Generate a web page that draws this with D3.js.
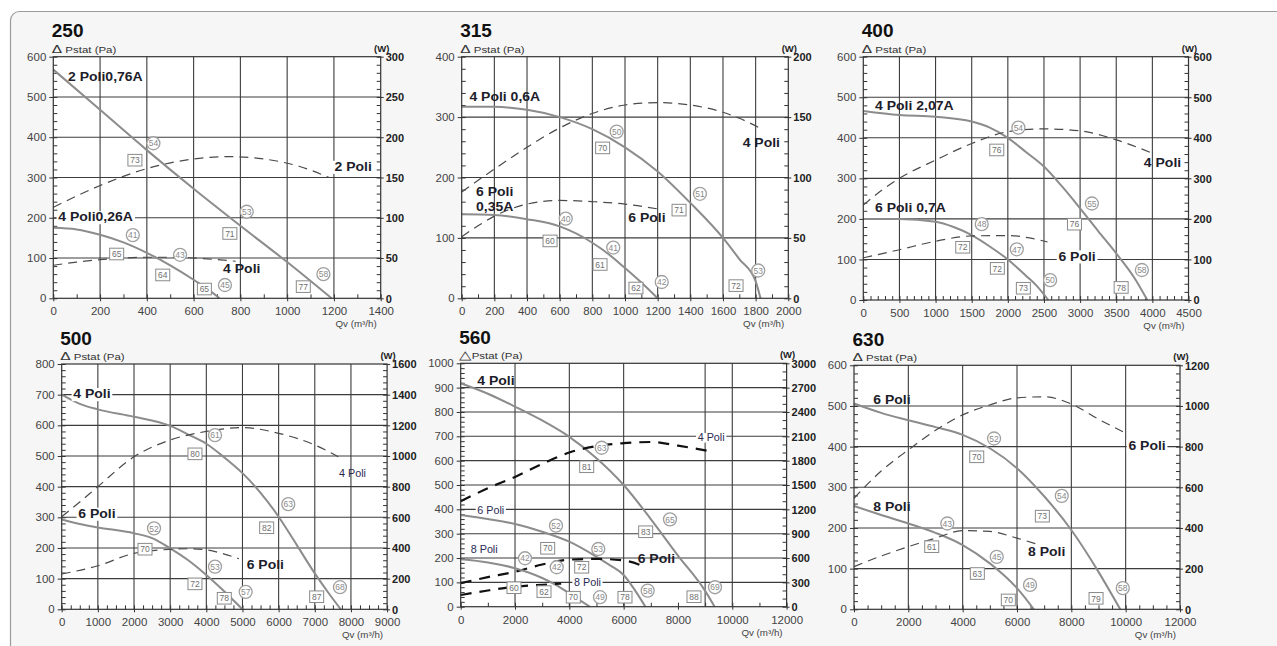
<!DOCTYPE html>
<html><head><meta charset="utf-8">
<script src="https://cdn.jsdelivr.net/npm/d3@7"></script>
<style>
body{margin:0;background:#fff;}
svg{display:block;}
</style></head><body>
<script>
// ---------------- DATA ----------------
const titles = ["250","315","400","500","560","630"];
const qvMax  = [1400,2000,4500,9000,12000,12000];
const paMax  = [600,400,600,800,1000,600];
const wMax   = [300,200,600,1600,3000,1200];
const qvStep = [200,200,500,1000,2000,2000];
const qvMinorStep = [100,100,100,250,1000,500];
const paStep = [100,100,100,100,100,100];
const paMinorStep = [20,20,20,20,20,20];
const wStep  = [50,50,100,200,300,200];
const wMinorStep = [10,10,20,40,100,40];
const qvGrid = [
  [200,400,600,800,1000,1200],
  [200,400,600,800,1000,1200,1400,1600,1800],
  [500,1000,1500,2000,2500,3000,3500,4000],
  [1000,2000,3000,4000,5000,6000,7000,8000],
  [2000,4000,6000,9000,10000],
  [2000,4000,6000,8000,10000]
];

// pressure curves [Qv, Pa]; power curves [Qv, W]
const p250_2P     = [[0,568],[200,468],[400,368],[600,272],[800,180],[1000,90],[1190,0]];
const p250_2P_pow = [[0,113],[200,140],[400,161],[600,173],[750,176],[900,173],[1050,164],[1180,150]];
const p250_4P     = [[0,175],[100,171],[200,158],[300,139],[400,113],[500,82],[600,46],[700,5],[710,0]];
const p250_4P_pow = [[0,41],[100,45],[200,48],[300,50],[400,51],[500,51],[600,50],[700,48],[780,46]];

const p315_4P     = [[0,317],[200,317],[400,312],[600,300],[800,280],[1000,250],[1200,210],[1400,158],[1600,100],[1700,65],[1800,28],[1830,0]];
const p315_4P_pow = [[0,88],[200,107],[400,125],[600,141],[800,153],[1000,160],[1200,162],[1400,160],[1600,154],[1700,149],[1840,140]];
const p315_6P     = [[0,139],[200,138],[400,131],[600,119],[800,92],[900,73],[1000,50],[1100,26],[1200,0]];
const p315_6P_pow = [[0,51],[100,60],[200,68],[300,74],[400,78],[600,81],[800,80],[1000,78],[1200,74]];

const p400_4P     = [[0,466],[500,456],[1000,452],[1500,440],[1750,425],[2000,400],[2250,365],[2500,329],[2750,280],[3000,226],[3250,170],[3500,115],[3750,55],[3930,0]];
const p400_4P_pow = [[0,234],[250,270],[500,300],[1000,345],[1500,386],[2000,415],[2500,422],[3000,417],[3500,395],[4000,362]];
const p400_6P     = [[0,200],[500,200],[1000,193],[1250,180],[1500,160],[1750,132],[2000,100],[2250,60],[2400,35],[2560,0]];
const p400_6P_pow = [[0,104],[500,124],[1000,145],[1500,158],[2000,159],[2300,153],[2550,143]];

const p500_4P     = [[0,700],[500,670],[1000,652],[2000,628],[3000,598],[3500,570],[4000,540],[4500,495],[5000,444],[5500,380],[6000,302],[6500,210],[7000,117],[7400,50],[7720,0]];
const p500_4P_pow = [[0,604],[500,700],[1000,800],[2000,995],[3000,1104],[4000,1160],[5000,1185],[6000,1148],[7000,1072],[7650,995]];
const p500_6P     = [[0,293],[500,278],[1000,267],[2000,248],[2500,232],[3000,199],[3500,160],[4000,112],[4500,58],[5000,0]];
const p500_6P_pow = [[0,230],[1000,284],[2000,365],[3000,391],[3500,395],[4000,388],[4500,360],[4900,330]];

const p560_4P     = [[0,918],[1000,875],[2000,822],[3000,765],[4000,698],[5000,610],[6000,500],[7000,360],[8000,210],[9000,65],[9350,0]];
const p560_4P_pow = [[0,1300],[1000,1460],[2000,1600],[3000,1760],[4000,1900],[5000,1980],[6000,2015],[7000,2030],[8000,1985],[9200,1915]];
const p560_6P     = [[0,377],[1000,360],[2000,340],[3000,308],[4000,267],[5000,205],[5500,170],[6000,130],[6400,70],[6800,0]];
const p560_6P_pow = [[0,290],[1000,365],[2000,431],[3000,520],[4000,580],[5000,590],[6000,570],[6800,490]];
const p560_8P     = [[0,195],[1000,182],[2000,158],[3000,118],[3500,90],[4000,55],[4750,0]];
const p560_8P_pow = [[0,144],[1000,200],[2000,246],[3000,270],[3700,285]];

const p630_6P     = [[0,506],[1000,483],[2000,465],[3000,448],[4000,429],[5000,396],[6000,347],[7000,278],[8000,195],[9000,92],[9800,0]];
const p630_6P_pow = [[0,546],[1000,680],[2000,784],[3000,880],[4000,956],[5000,1005],[6000,1040],[7000,1045],[8000,1010],[9000,935],[9900,873]];
const p630_8P     = [[0,254],[1000,232],[2000,211],[3000,188],[4000,158],[5000,113],[5500,85],[6000,52],[6620,0]];
const p630_8P_pow = [[0,210],[1000,262],[2000,308],[3000,350],[4000,387],[5000,383],[6000,350],[6700,322]];

// markers [Qv, Pa, label, type]  c = circle (dB), s = square (efficiency)
const m250 = [[428,385,"54","c"],[349,343,"73","s"],[827,215,"53","c"],[755,161,"71","s"],[1155,60,"58","c"],[1069,29,"77","s"],[340,157,"41","c"],[271,110,"65","s"],[542,108,"43","c"],[468,58,"64","s"],[646,23,"65","s"],[734,33,"45","c"]];
const m315 = [[949,276,"50","c"],[863,249,"70","s"],[1459,173,"51","c"],[1331,146,"71","s"],[1816,46,"53","c"],[1680,21,"72","s"],[637,132,"40","c"],[541,95,"60","s"],[928,84,"41","c"],[847,56,"61","s"],[1067,17,"62","s"],[1225,27,"42","c"]];
const m400 = [[2146,425,"54","c"],[1847,370,"76","s"],[3163,238,"55","c"],[2922,187,"76","s"],[3855,74,"58","c"],[3568,31,"78","s"],[1639,187,"48","c"],[1376,130,"72","s"],[2124,125,"47","c"],[1855,78,"72","s"],[2215,29,"73","s"],[2585,49,"50","c"]];
const m500 = [[4240,568,"61","c"],[3686,507,"80","s"],[6267,343,"63","c"],[5669,266,"82","s"],[7696,72,"68","c"],[7052,41,"87","s"],[2553,264,"52","c"],[2304,196,"70","s"],[4240,139,"53","c"],[3686,83,"72","s"],[4497,36,"78","s"],[5088,57,"57","c"]];
const m560 = [[5191,653,"63","c"],[4639,575,"81","s"],[7706,359,"65","c"],[6811,308,"83","s"],[9363,80,"69","c"],[8590,41,"88","s"],[3509,333,"52","c"],[3203,240,"70","s"],[5066,237,"53","c"],[4455,162,"72","s"],[6049,39,"78","s"],[6885,66,"58","c"],[2367,199,"42","c"],[1962,78,"60","s"],[3535,162,"42","c"],[3067,62,"62","s"],[4146,39,"70","s"],[5129,39,"49","c"]];
const m630 = [[5155,420,"52","c"],[4518,375,"70","s"],[7647,279,"54","c"],[6933,229,"73","s"],[9893,52,"58","c"],[8910,27,"79","s"],[3435,211,"43","c"],[2861,154,"61","s"],[5254,129,"45","c"],[4540,88,"63","s"],[6480,60,"49","c"],[5681,23,"70","s"]];

// curve labels [text, Qv, Pa(baseline), anchor, style]
const n250 = [["2 Poli0,76A",63,540,"start","B"],["4 Poli0,26A",21,191,"start","Bb"],["2 Poli",1362,316,"end","Bb"],["4 Poli",726,64,"start","B"]];
const n315 = [["4 Poli 0,6A",47,327,"start","B"],["6 Poli",88,169,"start","B"],["0,35A",88,145,"start","B"],["4 Poli",1949,250,"end","B"],["6 Poli",1020,127,"start","B"]];
const n400 = [["4 Poli 2,07A",162,469,"start","B"],["6 Poli 0,7A",162,216,"start","B"],["4 Poli",4399,329,"end","B"],["6 Poli",2700,97,"start","Bb"]];
const n500 = [["4 Poli",321,688,"start","Bb"],["6 Poli",459,298,"start","Bb"],["4 Poli",7669,433,"start","n"],["6 Poli",5116,131,"start","B"]];
const n560 = [["4 Poli",611,911,"start","B"],["6 Poli",611,381,"start","nb"],["8 Poli",368,219,"start","n"],["8 Poli",4171,86,"start","nb"],["4 Poli",8726,682,"start","nb"],["6 Poli",6517,178,"start","B"]];
const n630 = [["6 Poli",711,506,"start","B"],["8 Poli",711,242,"start","B"],["6 Poli",10100,392,"start","Bb"],["8 Poli",6407,132,"start","B"]];

const panelCurves = [
  [[p250_2P,"p"],[p250_2P_pow,"w"],[p250_4P,"p"],[p250_4P_pow,"w"]],
  [[p315_4P,"p"],[p315_4P_pow,"w"],[p315_6P,"p"],[p315_6P_pow,"w"]],
  [[p400_4P,"p"],[p400_4P_pow,"w"],[p400_6P,"p"],[p400_6P_pow,"w"]],
  [[p500_4P,"p"],[p500_4P_pow,"w"],[p500_6P,"p"],[p500_6P_pow,"w"]],
  [[p560_4P,"p"],[p560_4P_pow,"W"],[p560_6P,"p"],[p560_6P_pow,"W"],[p560_8P,"p"],[p560_8P_pow,"W"]],
  [[p630_6P,"p"],[p630_6P_pow,"w"],[p630_8P,"p"],[p630_8P_pow,"w"]]
];
const panelMarkers = [m250,m315,m400,m500,m560,m630];
const panelNotes = [n250,n315,n400,n500,n560,n630];
const yLabels = ["\u0394 Pstat (Pa)","\u0394 Pstat (Pa)","\u0394 Pstat (Pa)","\u0394 Pstat (Pa)","\u25B3Pstat (Pa)","\u0394 Pstat (Pa)"];

// ---------------- LAYOUT ----------------
const boxes = [
  [53.3,56.7,380.7,298.3],
  [461.7,56.7,788.3,298.3],
  [863.3,56.7,1188.5,300],
  [61.7,364,387.1,609.3],
  [460.7,363.3,786.6,606.7],
  [854,365.3,1180,609.3]
];
const FONT = "Arial, 'Liberation Sans', Helvetica, sans-serif";
const fmt = d3.format("d");

const svg = d3.select("body").append("svg").attr("width",1277).attr("height",646)
  .style("font-family", FONT);
svg.append("rect").attr("width",1277).attr("height",646).attr("fill","#ffffff");
svg.append("rect").attr("x",10.5).attr("y",11.5).attr("width",1300).attr("height",700)
  .attr("rx",9).attr("fill","#f6f6f6").attr("stroke","#9c9c9c").attr("stroke-width",1.2);

function txt(g, x, y, s, o) {
  o = o || {};
  const grp = g.append("g").attr("transform",`translate(${x},${y}) scale(${o.sx||1},1)`);
  const t = grp.append("text").attr("text-anchor",o.a||"start")
    .attr("font-size",o.fs||10).attr("font-weight",o.b?"bold":"normal")
    .attr("fill",o.c||"#333").text(s);
  if (o.bg) {
    const bb = t.node().getBBox();
    grp.insert("rect","text").attr("x",bb.x-1.5).attr("y",bb.y+1).attr("width",bb.width+3)
      .attr("height",bb.height-1).attr("fill",o.bg);
  }
  return grp;
}

function drawPanel(i) {
  const [x0,y0,x1,y1] = boxes[i];
  const g = svg.append("g");
  const x = d3.scaleLinear().domain([0,qvMax[i]]).range([x0,x1]);
  const y = d3.scaleLinear().domain([0,paMax[i]]).range([y1,y0]);
  const yw = d3.scaleLinear().domain([0,wMax[i]]).range([y1,y0]);

  g.append("rect").attr("x",x0).attr("y",y0).attr("width",x1-x0).attr("height",y1-y0).attr("fill","#fff");

  // grid
  const grid = g.append("g").attr("stroke","#3c3c3c").attr("stroke-width",1.1);
  d3.range(paStep[i], paMax[i], paStep[i]).forEach(v =>
    grid.append("line").attr("x1",x0).attr("x2",x1).attr("y1",y(v)).attr("y2",y(v)));
  qvGrid[i].forEach(v =>
    grid.append("line").attr("y1",y0).attr("y2",y1).attr("x1",x(v)).attr("x2",x(v)));

  // minor ticks (inward)
  const mk = (axis, tr) => { const a = g.append("g").attr("transform",tr).call(axis);
    a.select(".domain").remove(); a.selectAll("line").attr("stroke","#333"); return a; };
  mk(d3.axisRight(y).tickValues(d3.range(0,paMax[i]+1,paMinorStep[i])).tickSize(4).tickFormat(""), `translate(${x0},0)`);
  mk(d3.axisTop(x).tickValues(d3.range(0,qvMax[i]+1,qvMinorStep[i])).tickSize(4).tickFormat(""), `translate(0,${y1})`);
  mk(d3.axisLeft(yw).tickValues(d3.range(0,wMax[i]+1,wMinorStep[i])).tickSize(4).tickFormat(""), `translate(${x1},0)`);

  // curves
  const line = d3.line().x(d=>x(d[0])).curve(d3.curveMonotoneX);
  panelCurves[i].forEach(([data,k]) => {
    const p = g.append("path").attr("fill","none");
    if (k==="p") {
      p.attr("d", line.y(d=>y(d[1]))(data)).attr("stroke","#8c8c8c").attr("stroke-width",2);
    } else if (k==="w") {
      p.attr("d", line.y(d=>yw(d[1]))(data)).attr("stroke","#4a4a4a").attr("stroke-width",1.2).attr("stroke-dasharray","9,6");
    } else {
      p.attr("d", line.y(d=>yw(d[1]))(data)).attr("stroke","#111").attr("stroke-width",2.2).attr("stroke-dasharray","11,8");
    }
  });

  // markers
  panelMarkers[i].forEach(([q,pa,lab,t]) => {
    const cx = x(q), cy = y(pa);
    if (t==="c") {
      g.append("circle").attr("cx",cx).attr("cy",cy).attr("r",6.5).attr("fill","#fff")
        .attr("stroke","#a0a0a0").attr("stroke-width",1.3);
      g.append("text").attr("x",cx).attr("y",cy+3.2).attr("text-anchor","middle")
        .attr("font-size",8.5).attr("fill","#8a8a8a").text(lab);
    } else {
      g.append("rect").attr("x",cx-7).attr("y",cy-5.8).attr("width",14).attr("height",11.6)
        .attr("fill","#fff").attr("stroke","#8a8a8a").attr("stroke-width",1);
      g.append("text").attr("x",cx).attr("y",cy+3.2).attr("text-anchor","middle")
        .attr("font-size",8.5).attr("fill","#6f6f6f").text(lab);
    }
  });

  // notes
  panelNotes[i].forEach(([s,q,pa,a,st]) => {
    const bold = st[0]==="B";
    const bg = st.indexOf("b",1)>0 ? "#fff" : null;
    txt(g, x(q), y(pa), s, {a:a, b:bold, fs: bold?12.5:10, sx: bold?1.12:1.08,
      c: bold?"#1d1d2b":"#2a2a55", bg:bg});
  });

  // frame
  g.append("rect").attr("x",x0).attr("y",y0).attr("width",x1-x0).attr("height",y1-y0)
    .attr("fill","none").attr("stroke","#333").attr("stroke-width",1.2);

  // major axes with labels
  const la = g.append("g").attr("transform",`translate(${x0},0)`)
    .call(d3.axisLeft(y).tickValues(d3.range(0,paMax[i]+1,paStep[i])).tickSize(4).tickFormat(fmt));
  const ba = g.append("g").attr("transform",`translate(0,${y1})`)
    .call(d3.axisBottom(x).tickValues(d3.range(0,qvMax[i]+1,qvStep[i])).tickSize(3).tickFormat(fmt));
  const ra = g.append("g").attr("transform",`translate(${x1},0)`)
    .call(d3.axisRight(yw).tickValues(d3.range(0,wMax[i]+1,wStep[i])).tickSize(3).tickFormat(fmt));
  [la,ba,ra].forEach(a => { a.attr("font-family",null).attr("font-size",null);
    a.select(".domain").remove(); a.selectAll("line").attr("stroke","#333"); });
  la.selectAll("text").attr("x",null).attr("dy",null).attr("font-size",10).attr("fill","#444")
    .attr("transform","translate(-7,3.6) scale(1.15,1)");
  ba.selectAll("text").attr("y",null).attr("dy",null).attr("font-size",10).attr("fill","#444")
    .attr("transform","translate(0,17) scale(1.15,1)");
  ra.selectAll("text").attr("x",null).attr("dy",null).attr("font-size",10.5).attr("font-weight","bold")
    .attr("fill","#222").attr("transform","translate(5,3.8) scale(1.05,1)");

  // titles & axis titles
  txt(g, x0-1.5, y0-19.5, titles[i], {fs:19, b:true, c:"#111"});
  const yl = yLabels[i];
  const gl = g.append("g").attr("transform",`translate(${x0-1.5},${y0-4}) scale(1.35,1)`)
    .append("text").attr("fill","#333");
  gl.append("tspan").attr("font-size",11.5).text(yl.slice(0,1));
  gl.append("tspan").attr("font-size",8.5).text(yl.slice(1));
  txt(g, x1+1, y0-5, "(W)", {fs:9.5, b:true, a:"middle", c:"#222"});
  txt(g, x1-4, y1+29, "Qv (m\u00B3/h)", {fs:8.5, a:"end", c:"#444", sx:1.15});
  return g;
}

d3.range(6).forEach(drawPanel);
</script>
</body></html>
